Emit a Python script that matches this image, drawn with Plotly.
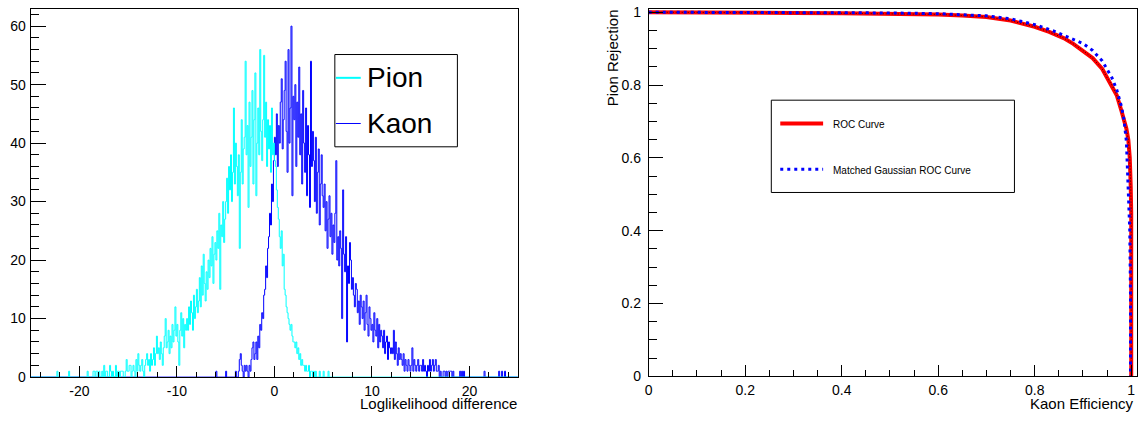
import plotly.graph_objects as go

# ---------------------------------------------------------------
# Histogram binning: 500 bins of width 0.1 on [-25, 25]
# ---------------------------------------------------------------
bin_lo, bin_hi, bin_w = -25.0, 25.0, 0.1

# Pion log-likelihood difference counts, one row per unit starting at -23
pion_first_bin = -23.0
pion_counts = [
    0, 0, 0, 0, 0, 0, 0, 1, 0, 0,
    0, 0, 0, 0, 0, 0, 0, 0, 0, 1,
    0, 0, 0, 0, 0, 0, 0, 0, 0, 0,
    0, 0, 0, 0, 0, 0, 0, 0, 1, 0,
    0, 0, 0, 0, 1, 1, 0, 1, 1, 0,
    1, 0, 0, 1, 0, 2, 0, 1, 1, 0,
    0, 2, 1, 0, 1, 0, 0, 2, 0, 1,
    1, 0, 1, 1, 1, 0, 0, 1, 3, 1,
    1, 2, 2, 0, 1, 2, 1, 0, 3, 1,
    4, 2, 1, 2, 3, 1, 0, 2, 3, 4,
    2, 3, 1, 4, 2, 3, 5, 2, 4, 7,
    4, 5, 3, 6, 4, 2, 5, 7, 10, 5,
    6, 8, 4, 7, 5, 9, 6, 8, 12, 7,
    9, 6, 2, 8, 11, 7, 10, 5, 9, 8,
    10, 8, 12, 9, 13, 11, 8, 14, 10, 12,
    15, 11, 13, 17, 12, 19, 14, 21, 16, 13,
    18, 15, 20, 17, 22, 19, 24, 16, 21, 23,
    20, 25, 22, 28, 15, 26, 24, 30, 23, 27,
    30, 34, 28, 36, 32, 38, 30, 35, 46, 33,
    40, 36, 31, 38, 22, 35, 44, 33, 39, 41,
    54, 38, 43, 29, 47, 36, 41, 49, 33, 44,
    52, 31, 40, 46, 38, 56, 42, 37, 44, 55,
    41, 47, 36, 44, 39, 43, 35, 46, 38, 40,
    37, 36, 32, 29, 27, 24, 22, 25, 19, 21,
    15, 14, 12, 11, 10, 9, 8, 9, 7, 6,
    6, 5, 6, 4, 5, 3, 4, 2, 3, 2,
    2, 1, 2, 1, 1, 2, 0, 1, 1, 0,
    1, 0, 1, 0, 0, 0, 1, 0, 0, 0,
    1, 0, 0, 0, 0, 1, 0, 0, 0, 0,
]

# Kaon log-likelihood difference counts, one row per unit starting at -7
kaon_first_bin = -7.0
kaon_counts = [
    0, 0, 0, 0, 0, 0, 0, 0, 0, 0,
    1, 0, 0, 0, 0, 0, 0, 0, 0, 0,
    1, 0, 0, 0, 0, 0, 0, 0, 0, 0,
    1, 0, 0, 1, 3, 4, 2, 1, 0, 2,
    1, 2, 1, 0, 2, 1, 3, 5, 6, 3,
    4, 6, 3, 7, 5, 9, 8, 11, 10, 14,
    15, 19, 17, 22, 24, 28, 26, 33, 30, 37,
    41, 38, 45, 36, 43, 40, 47, 51, 39, 44,
    49, 54, 42, 35, 56, 40, 46, 60, 31, 48,
    44, 50, 36, 47, 41, 53, 38, 45, 33, 49,
    40, 35, 46, 31, 43, 38, 29, 54, 36, 42,
    37, 30, 41, 28, 35, 39, 26, 33, 38, 31,
    29, 33, 25, 30, 22, 27, 31, 24, 28, 21,
    26, 23, 28, 37, 20, 24, 19, 25, 22, 10,
    32, 21, 18, 24, 6, 19, 16, 23, 20, 15,
    17, 14, 12, 16, 15, 11, 13, 9, 14, 12,
    10, 13, 8, 11, 14, 9, 7, 12, 10, 8,
    9, 6, 11, 8, 7, 10, 5, 9, 6, 8,
    7, 5, 8, 4, 6, 7, 3, 6, 5, 4,
    5, 4, 8, 3, 6, 4, 2, 5, 3, 4,
    3, 2, 4, 1, 3, 2, 1, 3, 2, 1,
    2, 5, 1, 3, 2, 1, 2, 3, 1, 2,
    2, 1, 3, 1, 2, 1, 0, 2, 1, 3,
    1, 2, 3, 1, 2, 3, 1, 1, 2, 0,
    1, 0, 0, 1, 1, 0, 1, 0, 1, 1,
    1, 1, 0, 1, 0, 0, 0, 0, 0, 0,
    1, 0, 1, 0, 1, 0, 0, 0, 0, 0,
    0, 0, 0, 0, 0, 0, 0, 0, 0, 0,
    0, 0, 0, 0, 0, 1, 0, 0, 0, 0,
    0, 0, 0, 0, 0, 0, 0, 0, 0, 0,
    1, 0, 0, 1, 0, 0, 1, 0, 0, 0,
    0, 0, 0, 0, 0, 0, 0, 0, 0, 0,
]

hist_xticks = [-20, -10, 0, 10, 20]
hist_xticklabels = ["-20", "-10", "0", "10", "20"]

# ROC curve: kaon efficiency vs pion rejection
roc_eff = [0.0, 0.1, 0.2, 0.3, 0.4, 0.5, 0.6, 0.65, 0.7, 0.75, 0.8, 0.83,
           0.86, 0.88, 0.9, 0.92, 0.94, 0.95, 0.96, 0.97, 0.98, 0.985,
           0.99, 0.994, 0.997, 0.999, 1.0, 1.0, 1.0]
roc_rej = [1.0, 1.0, 0.999, 0.998, 0.997, 0.996, 0.994, 0.991, 0.987,
           0.977, 0.96, 0.946, 0.929, 0.913, 0.895, 0.874, 0.844, 0.82,
           0.8, 0.772, 0.728, 0.705, 0.68, 0.65, 0.6, 0.52, 0.45, 0.2, 0.0]

# Matched Gaussian ROC curve
gauss_eff = [0.0, 0.2, 0.4, 0.5, 0.6, 0.7, 0.75, 0.8, 0.84, 0.87, 0.9,
             0.92, 0.94, 0.96, 0.97, 0.98, 0.985, 0.99, 0.994, 0.997,
             0.9985, 0.9985]
gauss_rej = [1.0, 1.0, 0.999, 0.998, 0.996, 0.99, 0.982, 0.966, 0.948,
             0.932, 0.914, 0.895, 0.866, 0.82, 0.787, 0.74, 0.705, 0.645,
             0.53, 0.4, 0.22, 0.0]


def full_hist(first_bin, counts):
    """Place a block of counts into the full 500-bin range."""
    n = int(round((bin_hi - bin_lo) / bin_w))
    vals = [0] * n
    start = int(round((first_bin - bin_lo) / bin_w))
    for i, c in enumerate(counts):
        vals[start + i] = c
    return vals


n_bins = int(round((bin_hi - bin_lo) / bin_w))
centers = [bin_lo + bin_w * (i + 0.5) for i in range(n_bins)]
pion_hist = full_hist(pion_first_bin, pion_counts)
kaon_hist = full_hist(kaon_first_bin, kaon_counts)

W, H = 1140, 421


def px(x):
    return x / W


def py(y):
    return 1 - y / H


FONT = "Liberation Sans, Arial, Helvetica, sans-serif"

fig = go.Figure()

fig.add_trace(go.Scatter(
    x=centers, y=kaon_hist, mode="lines", line_shape="hvh",
    line=dict(color="#0000FF", width=1), name="Kaon",
    xaxis="x", yaxis="y", showlegend=False))
fig.add_trace(go.Scatter(
    x=centers, y=pion_hist, mode="lines", line_shape="hvh",
    line=dict(color="#00FFFF", width=1), name="Pion",
    xaxis="x", yaxis="y", showlegend=False))

fig.add_trace(go.Scatter(
    x=roc_eff, y=roc_rej, mode="lines",
    line=dict(color="#FF0000", width=4), name="ROC Curve",
    xaxis="x2", yaxis="y2", showlegend=False))
fig.add_trace(go.Scatter(
    x=roc_eff, y=roc_rej, mode="lines",
    line=dict(color="#000000", width=0.8, dash="1px,2px"),
    xaxis="x2", yaxis="y2", showlegend=False, hoverinfo="skip"))
fig.add_trace(go.Scatter(
    x=gauss_eff, y=gauss_rej, mode="lines",
    line=dict(color="#0000FF", width=3, dash="3px,4px"),
    name="Matched Gaussian ROC Curve",
    xaxis="x2", yaxis="y2", showlegend=False))

left_dom = [px(26.7), px(516)]
right_dom = [px(647), px(1137)]
y_dom = [py(384), py(4.7)]
y_dom2 = [py(383.3), py(4.7)]

tickfont = dict(family=FONT, size=14, color="#000000")
frame = dict(showline=True, linecolor="#000000", linewidth=1, mirror=True,
             showgrid=False, zeroline=False, ticks="inside",
             tickcolor="#000000", tickwidth=1, tickfont=tickfont)

fig.update_layout(
    width=W, height=H,
    margin=dict(l=0, r=0, t=0, b=0),
    paper_bgcolor="white", plot_bgcolor="white",
    showlegend=False,
    xaxis=dict(domain=left_dom, range=[-25, 25], anchor="y",
               tickmode="array", tickvals=hist_xticks,
               ticktext=hist_xticklabels, ticklen=11,
               ticklabelstandoff=1,
               minor=dict(ticks="inside", ticklen=5, dtick=2, tick0=0,
                          tickcolor="#000000", showgrid=False),
               **frame),
    yaxis=dict(domain=y_dom, range=[0, 63], anchor="x",
               tickmode="linear", tick0=0, dtick=10, ticklen=15,
               ticklabelstandoff=1,
               minor=dict(ticks="inside", ticklen=8, dtick=2, tick0=0,
                          tickcolor="#000000", showgrid=False),
               **frame),
    xaxis2=dict(domain=right_dom, range=[0, 1.012], anchor="y2",
                tickmode="linear", tick0=0, dtick=0.2, ticklen=11,
                ticklabelstandoff=1,
                minor=dict(ticks="inside", ticklen=6, dtick=0.05, tick0=0,
                           tickcolor="#000000", showgrid=False),
                **frame),
    yaxis2=dict(domain=y_dom2, range=[0, 1.01], anchor="x2",
                tickmode="linear", tick0=0, dtick=0.2, ticklen=14,
                ticklabelstandoff=4,
                minor=dict(ticks="inside", ticklen=8, dtick=0.05, tick0=0,
                           tickcolor="#000000", showgrid=False),
                **frame),
)

annotations = []
shapes = []

# Axis titles
title_font = dict(family=FONT, size=15, color="#000000")
annotations.append(dict(x=px(516), y=py(421), xref="paper", yref="paper",
                        text="Loglikelihood difference", showarrow=False,
                        xanchor="right", yanchor="bottom", borderpad=0,
                        font=title_font))
annotations.append(dict(x=px(1135), y=py(421), xref="paper", yref="paper",
                        text="Kaon Efficiency", showarrow=False,
                        xanchor="right", yanchor="bottom", borderpad=0,
                        font=title_font))
annotations.append(dict(x=px(611), y=py(4), xref="paper", yref="paper",
                        text="Pion Rejection", showarrow=False, textangle=-90,
                        xanchor="center", yanchor="top", borderpad=0,
                        font=title_font))

# Histogram legend
shapes.append(dict(type="rect", xref="paper", yref="paper",
                   x0=px(332), x1=px(455), y0=py(147), y1=py(52),
                   line=dict(color="#000000", width=1), fillcolor="white"))
shapes.append(dict(type="line", xref="paper", yref="paper",
                   x0=px(333), x1=px(358), y0=py(76), y1=py(76),
                   line=dict(color="#00FFFF", width=2)))
shapes.append(dict(type="line", xref="paper", yref="paper",
                   x0=px(333), x1=px(358), y0=py(123), y1=py(123),
                   line=dict(color="#0000FF", width=1)))
annotations.append(dict(x=px(362), y=py(76), xref="paper", yref="paper",
                        text="Pion", showarrow=False, xanchor="left",
                        yanchor="middle",
                        font=dict(family=FONT, size=28, color="#000000")))
annotations.append(dict(x=px(362), y=py(123), xref="paper", yref="paper",
                        text="Kaon", showarrow=False, xanchor="left",
                        yanchor="middle",
                        font=dict(family=FONT, size=28, color="#000000")))

# ROC legend
shapes.append(dict(type="rect", xref="paper", yref="paper",
                   x0=px(770), x1=px(1014), y0=py(194), y1=py(99),
                   line=dict(color="#000000", width=1), fillcolor="white"))
shapes.append(dict(type="line", xref="paper", yref="paper",
                   x0=px(779), x1=px(822), y0=py(123), y1=py(123),
                   line=dict(color="#FF0000", width=4)))
shapes.append(dict(type="line", xref="paper", yref="paper",
                   x0=px(779), x1=px(822), y0=py(170), y1=py(170),
                   line=dict(color="#0000FF", width=3, dash="3px,4px")))
annotations.append(dict(x=px(830), y=py(124), xref="paper", yref="paper",
                        text="ROC Curve", showarrow=False, xanchor="left",
                        yanchor="middle",
                        font=dict(family=FONT, size=10, color="#000000")))
annotations.append(dict(x=px(830), y=py(171), xref="paper", yref="paper",
                        text="Matched Gaussian ROC Curve", showarrow=False,
                        xanchor="left", yanchor="middle",
                        font=dict(family=FONT, size=10, color="#000000")))

fig.update_layout(annotations=annotations, shapes=shapes)

fig.write_html("out.html")
